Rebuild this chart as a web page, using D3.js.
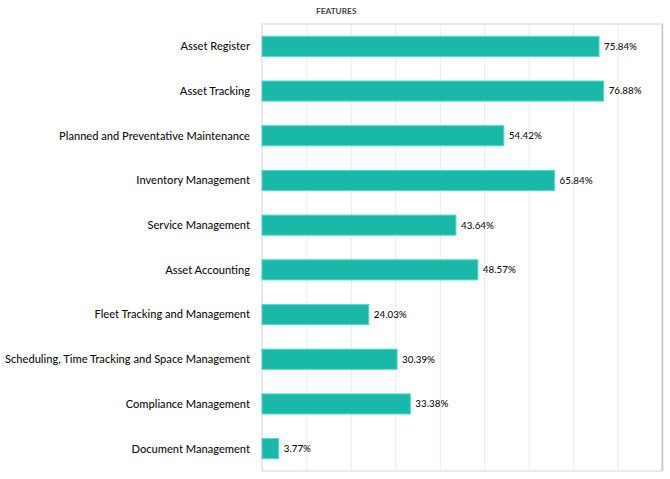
<!DOCTYPE html>
<html><head><meta charset="utf-8">
<script src="https://cdn.jsdelivr.net/npm/d3@7"></script>
<style>body{margin:0;background:#fff;}svg{display:block;}</style>
</head><body><svg id="c" width="670" height="479"></svg>
<script>
const categories = ["Asset Register","Asset Tracking","Planned and Preventative Maintenance","Inventory Management","Service Management","Asset Accounting","Fleet Tracking and Management","Scheduling, Time Tracking and Space Management","Compliance Management","Document Management"];
const values = [75.84,76.88,54.42,65.84,43.64,48.57,24.03,30.39,33.38,3.77];
const gridTicks = [0,10,20,30,40,50,60,70,80,90];
const title = "FEATURES";

const svg = d3.select("#c");
const m = {left:262, top:24, right:662, bottom:471};
const x = d3.scaleLinear().domain([0,90]).range([m.left, m.right]);
const y = d3.scaleBand().domain(categories).range([m.top, m.bottom]).paddingInner(0.55).paddingOuter(0.275);
const font = "Lato, 'Open Sans', sans-serif";

// plot border
svg.append("rect").attr("x", m.left).attr("y", m.top).attr("width", m.right-m.left).attr("height", m.bottom-m.top)
  .attr("fill","#fff").attr("stroke","#d4d4d4").attr("stroke-width",1);
// gridlines
svg.append("g").selectAll("line").data(gridTicks.slice(1)).join("line")
  .attr("x1", d=>x(d)+0.5).attr("x2", d=>x(d)+0.5).attr("y1", m.top).attr("y2", m.bottom)
  .attr("stroke", d=> d===90 ? "#c8c8c8" : "#ebebeb").attr("stroke-width", d=> d===90 ? 1.5 : 1);

// title
svg.append("text").attr("x", 316).attr("y", 14).text(title)
  .attr("font-family", font).attr("font-size", 8.3).attr("font-weight", 700).attr("fill","#444");

// bars
svg.append("g").selectAll("rect").data(values).join("rect")
  .attr("x", x(0)).attr("y", (d,i)=>y(categories[i]))
  .attr("width", d=>x(d)-x(0)).attr("height", y.bandwidth())
  .attr("fill","#1ab8a9").attr("stroke","#52dccc").attr("stroke-width",1);

// value labels
svg.append("g").selectAll("text").data(values).join("text")
  .attr("x", d=>x(d)+5).attr("y", (d,i)=>y(categories[i])+y.bandwidth()/2)
  .attr("dy","0.35em").text(d=>d.toFixed(2)+"%")
  .attr("font-family", font).attr("font-size", 9.8).attr("font-weight", 500).attr("fill","#111");

// category labels
svg.append("g").selectAll("text").data(categories).join("text")
  .attr("x", 250).attr("y", d=>y(d)+y.bandwidth()/2)
  .attr("dy","0.35em").attr("text-anchor","end").text(d=>d)
  .attr("font-family", font).attr("font-size", 11.1).attr("font-weight", 500).attr("fill","#111");
</script></body></html>
